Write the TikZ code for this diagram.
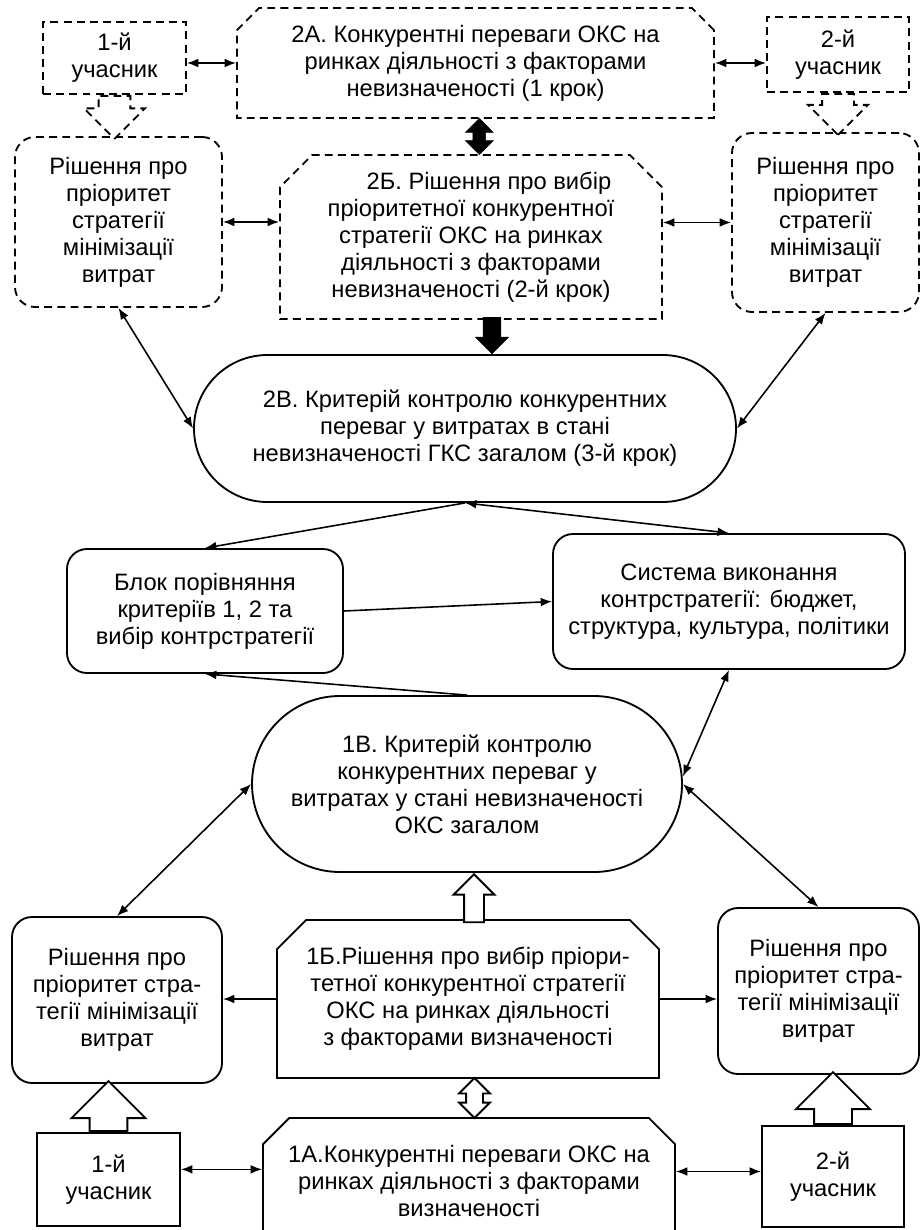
\documentclass[tikz,border=0pt]{standalone}
\usepackage{fontspec}
\setmainfont{Liberation Sans}
\usetikzlibrary{arrows.meta,shapes.misc,shapes.arrows,calc}

\begin{document}
\begin{tikzpicture}[x=0.02cm, y=-0.02cm,
    every node/.style={font=\fontsize{13.5pt}{15.4pt}\selectfont, align=center, inner sep=2pt},
    boxsize/.style 2 args={minimum width=#1*0.02cm, minimum height=#2*0.02cm},
    solidbox/.style={draw, line width=1.05pt},
    dashbox/.style={draw, line width=1.05pt, dash pattern=on 4.5pt off 3pt},
    roundbox/.style={rounded corners=0.4cm},
    cutbox/.style={chamfered rectangle, chamfered rectangle corners={north west, north east}, chamfered rectangle xsep=#1},
    sarrow/.style 2 args={single arrow, inner xsep=0pt, inner ysep=#1, single arrow head extend=#2},
    darrow/.style 2 args={double arrow, inner xsep=0pt, inner ysep=#1, double arrow head extend=#2},
    link/.style={line width=0.9pt, {Latex[length=6.5pt,width=5pt]}-{Latex[length=6.5pt,width=5pt]}},
    onelink/.style={line width=0.9pt, -{Latex[length=6.5pt,width=5pt]}}]
    \useasboundingbox (0,0) rectangle (921,1230);

    % Крок 2: невизначеність (пунктир)
    \node[dashbox, boxsize={143}{72}] (p2a) at (114.5,58) {1-й\\учасник};
    \node[dashbox, cutbox=0.32cm, boxsize={477}{110}] (r2a) at (475.5,63) {2А. Конкурентні переваги ОКС на\\ринках діяльності з факторами\\невизначеності (1 крок)};
    \node[dashbox, boxsize={142}{75}] (q2a) at (838,54.5) {2-й\\учасник};
    \node[dashbox, roundbox, boxsize={207}{170}] (d2l) at (118.5,222) {Рішення про\\пріоритет\\стратегії\\мінімізації\\витрат};
    \node[dashbox, cutbox=0.52cm, boxsize={382}{164}] (r2b) at (471,237) {\hspace*{0.72cm}2Б. Рішення про вибір\\пріоритетної конкурентної\\стратегії ОКС на ринках\\діяльності з факторами\\невизначеності (2-й крок)};
    \node[dashbox, roundbox, boxsize={187}{179}] (d2r) at (825.5,222.5) {Рішення про\\пріоритет\\стратегії\\мінімізації\\витрат};
    \node[solidbox, rounded corners=1.47cm, boxsize={542}{147}] (r2v) at (465,428.5) {2В. Критерій контролю конкурентних\\переваг у витратах в стані\\невизначеності ГКС загалом (3-й крок)};

    % Порівняння і виконання
    \node[solidbox, roundbox, boxsize={276}{124}] (blk) at (205,611) {Блок порівняння\\критеріїв 1, 2 та\\вибір контрстратегії};
    \node[solidbox, roundbox, boxsize={352}{135}] (sys) at (729,601.5) {Система виконання\\контрстратегії: бюджет,\\структура, культура, політики};

    % Крок 1: визначеність
    \node[solidbox, rounded corners=1.76cm, boxsize={430}{176}] (r1v) at (467,784) {1В. Критерій контролю\\конкурентних переваг у\\витратах у стані невизначеності\\ОКС загалом};
    \node[solidbox, roundbox, boxsize={210}{166}] (d1l) at (117,1000) {Рішення про\\пріоритет стра-\\тегії мінімізації\\витрат};
    \node[solidbox, cutbox=0.46cm, boxsize={382}{158}] (r1b) at (468,999) {1Б.Рішення про вибір пріори-\\тетної конкурентної стратегії\\ОКС на ринках діяльності\\з факторами визначеності};
    \node[solidbox, roundbox, boxsize={201}{166}] (d1r) at (818.5,991) {Рішення про\\пріоритет стра-\\тегії мінімізації\\витрат};
    \node[solidbox, cutbox=0.4cm, boxsize={412}{126}] (r1a) at (469,1181) {1А.Конкурентні переваги ОКС на\\ринках діяльності з факторами\\визначеності};
    \node[solidbox, boxsize={143}{93}] (p1b) at (108.5,1179.5) {1-й\\учасник};
    \node[solidbox, boxsize={142}{101}] (q1b) at (833,1176.5) {2-й\\учасник};

    % Широкі стрілки
    \node[dashbox, fill=white, sarrow={0.3cm}{0.29cm}, rotate=-90, anchor=tail, minimum height=0.86cm] (s1) at (p2a.south) {};
    \node[dashbox, fill=white, sarrow={0.3cm}{0.28cm}, rotate=-90, anchor=tail, minimum height=0.82cm] (s2) at (q2a.south) {};
    \node[draw, fill=black, darrow={0.12cm}{0.15cm}, rotate=90, minimum height=0.72cm] (s3) at ($(r2a.south)!0.5!(r2b.north)+(6,0)$) {};
    \node[draw, fill=black, sarrow={0.17cm}{0.15cm}, rotate=-90, anchor=tip, minimum height=0.72cm] (s4) at ($(r2v.north)+(27,0)$) {};
    \node[solidbox, fill=white, sarrow={0.18cm}{0.21cm}, rotate=90, anchor=tip, minimum height=0.96cm] (s5) at ($(r1v.south)+(7,0)$) {};
    \node[solidbox, fill=white, darrow={0.15cm}{0.14cm}, rotate=90, minimum height=0.8cm] (s6) at ($(r1b.south)!0.5!(r1a.north)+(6,0)$) {};
    \node[solidbox, fill=white, sarrow={0.36cm}{0.36cm}, rotate=90, anchor=tail, minimum height=1cm] (s7) at (p1b.north) {};
    \node[solidbox, fill=white, sarrow={0.36cm}{0.36cm}, rotate=90, anchor=tail, minimum height=1.04cm] (s8) at (q1b.north) {};

    % Зв'язки
    \draw[link] (r2a.west) -- (r2a.west -| p2a.east);
    \draw[link] (r2a.east) -- (r2a.east -| q2a.west);
    \draw[link] (d2l.east) -- (d2l.east -| r2b.west);
    \draw[link] (d2r.west) -- (d2r.west -| r2b.east);
    \draw[link] (d2l.south) -- (r2v.west);
    \draw[link] (d2r.south) -- (r2v.east);
    \draw[onelink] (r2v.south) -- (blk.north);
    \draw[link] (r2v.south) -- (sys.north);
    \draw[onelink] (blk.east) -- (sys.west);
    \draw[onelink] (r1v.north) -- (blk.south);
    \draw[link] (r1v.2) -- (sys.south);
    \draw[link] (r1v.west) -- (d1l.north);
    \draw[link] (r1v.east) -- (d1r.north);
    \draw[onelink] (r1b.west) -- (r1b.west -| d1l.east);
    \draw[onelink] (r1b.east) -- (r1b.east -| d1r.west);
    \draw[link] (p1b.8) -- (p1b.8 -| r1a.west);
    \draw[link] (q1b.176) -- (q1b.176 -| r1a.east);
\end{tikzpicture}
\end{document}
